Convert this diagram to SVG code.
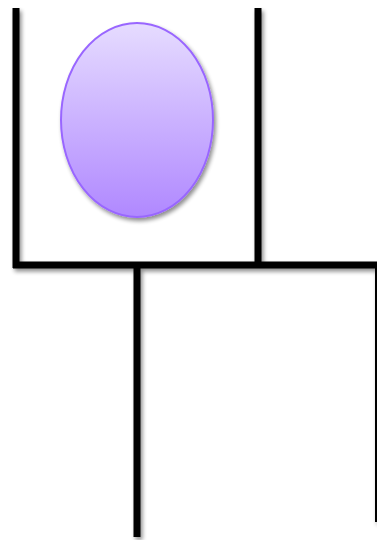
<svg xmlns="http://www.w3.org/2000/svg" width="377" height="540" viewBox="0 0 377 540">
<defs>
<linearGradient id="g" x1="0" y1="0" x2="0" y2="1">
<stop offset="0" stop-color="#e6dcff"/>
<stop offset="1" stop-color="#b088ff"/>
</linearGradient>
<filter id="sh" x="-20%" y="-20%" width="140%" height="140%">
<feGaussianBlur in="SourceAlpha" stdDeviation="2"/>
<feOffset dx="2" dy="3" result="b"/>
<feComponentTransfer><feFuncA type="linear" slope="0.45"/></feComponentTransfer>
<feMerge><feMergeNode/><feMergeNode in="SourceGraphic"/></feMerge>
</filter>
</defs>
<style>
.w{stroke:#000;stroke-width:7;fill:none;stroke-linecap:butt}
.t{stroke:#000;stroke-width:2;fill:none}
</style>
<g id="connectors" filter="url(#sh)">
<line class="w" x1="16" y1="8" x2="16" y2="268"/>
<line class="w" x1="258" y1="8" x2="258" y2="265"/>
<line class="w" x1="13" y1="265" x2="377" y2="265"/>
<line class="w" x1="137" y1="265" x2="137" y2="537"/>
<line class="t" x1="376" y1="265" x2="376" y2="522"/>
</g>
<g id="node1" filter="url(#sh)">
<ellipse cx="137" cy="120" rx="76" ry="97" fill="url(#g)" stroke="#9966ff" stroke-width="2"/>
</g>
</svg>
